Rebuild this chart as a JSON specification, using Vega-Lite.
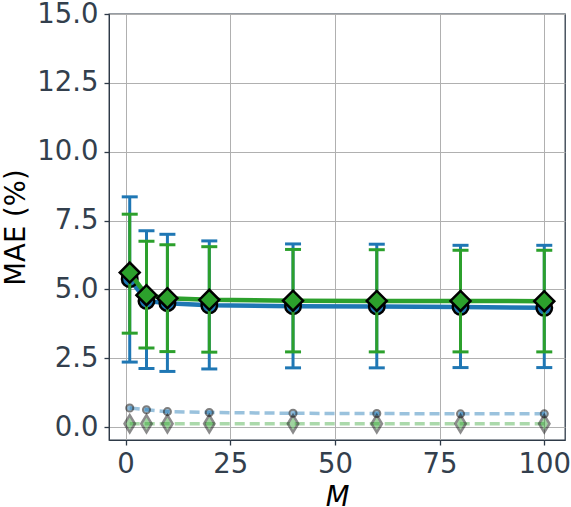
{
  "$schema": "https://vega.github.io/schema/vega-lite/v6.json",
  "width": 456,
  "height": 426,
  "autosize": {"type": "none"},
  "padding": {"left": 109, "top": 14, "right": 6, "bottom": 67},
  "background": "white",
  "config": {
    "font": "DejaVu Sans",
    "view": {"stroke": "#2e3a48", "strokeWidth": 1.3},
    "axis": {
      "domainColor": "#2e3a48",
      "tickColor": "#2e3a48",
      "tickSize": 5,
      "tickWidth": 1.3,
      "labelColor": "#333f4d",
      "labelFontSize": 27.5,
      "labelFont": "DejaVu Sans",
      "titleFont": "DejaVu Sans",
      "titleFontSize": 27.5,
      "titleColor": "black",
      "titleFontWeight": "normal",
      "gridColor": "#b0b0b0",
      "gridWidth": 1,
      "gridOpacity": 1
    }
  },
  "datasets": {
    "main": [
      {"M": 1, "series": "A", "mae": 5.37, "lo": 2.36, "hi": 8.36},
      {"M": 5, "series": "A", "mae": 4.58, "lo": 2.13, "hi": 7.13},
      {"M": 10, "series": "A", "mae": 4.5, "lo": 2.02, "hi": 7.0},
      {"M": 20, "series": "A", "mae": 4.42, "lo": 2.11, "hi": 6.76},
      {"M": 40, "series": "A", "mae": 4.39, "lo": 2.15, "hi": 6.65},
      {"M": 60, "series": "A", "mae": 4.38, "lo": 2.15, "hi": 6.64},
      {"M": 80, "series": "A", "mae": 4.36, "lo": 2.16, "hi": 6.6},
      {"M": 100, "series": "A", "mae": 4.33, "lo": 2.16, "hi": 6.6},
      {"M": 1, "series": "B", "mae": 5.61, "lo": 3.41, "hi": 7.73},
      {"M": 5, "series": "B", "mae": 4.79, "lo": 2.87, "hi": 6.75},
      {"M": 10, "series": "B", "mae": 4.68, "lo": 2.74, "hi": 6.62},
      {"M": 20, "series": "B", "mae": 4.62, "lo": 2.72, "hi": 6.55},
      {"M": 40, "series": "B", "mae": 4.59, "lo": 2.73, "hi": 6.45},
      {"M": 60, "series": "B", "mae": 4.58, "lo": 2.73, "hi": 6.44},
      {"M": 80, "series": "B", "mae": 4.58, "lo": 2.73, "hi": 6.42},
      {"M": 100, "series": "B", "mae": 4.57, "lo": 2.73, "hi": 6.42}
    ],
    "low": [
      {"M": 1, "series": "A", "mae": 0.69},
      {"M": 5, "series": "A", "mae": 0.63},
      {"M": 10, "series": "A", "mae": 0.56},
      {"M": 20, "series": "A", "mae": 0.53},
      {"M": 40, "series": "A", "mae": 0.5},
      {"M": 60, "series": "A", "mae": 0.49},
      {"M": 80, "series": "A", "mae": 0.48},
      {"M": 100, "series": "A", "mae": 0.48},
      {"M": 1, "series": "B", "mae": 0.12},
      {"M": 5, "series": "B", "mae": 0.12},
      {"M": 10, "series": "B", "mae": 0.12},
      {"M": 20, "series": "B", "mae": 0.12},
      {"M": 40, "series": "B", "mae": 0.12},
      {"M": 60, "series": "B", "mae": 0.12},
      {"M": 80, "series": "B", "mae": 0.12},
      {"M": 100, "series": "B", "mae": 0.12}
    ]
  },
  "encoding": {
    "x": {
      "field": "M", "type": "quantitative",
      "scale": {"domain": [-3.95, 104.95], "nice": false, "zero": false},
      "axis": {"values": [0, 25, 50, 75, 100], "title": "M", "titleFontStyle": "italic", "labelPadding": 5, "titlePadding": 6}
    },
    "y": {
      "field": "mae", "type": "quantitative",
      "scale": {"domain": [-0.47, 15], "nice": false, "zero": false},
      "axis": {"values": [0, 2.5, 5, 7.5, 10, 12.5, 15], "format": ".1f", "title": "MAE (%)", "labelPadding": 6, "titlePadding": 6}
    }
  },
  "layer": [
    {
      "data": {"name": "low"},
      "transform": [{"filter": "datum.series == 'A'"}],
      "mark": {"type": "line", "color": "#1f77b4", "opacity": 0.45, "strokeWidth": 3.5, "strokeDash": [10, 5]}
    },
    {
      "data": {"name": "low"},
      "transform": [{"filter": "datum.series == 'B'"}],
      "mark": {"type": "line", "color": "#2ca02c", "opacity": 0.4, "strokeWidth": 3.5, "strokeDash": [10, 5]}
    },
    {
      "data": {"name": "low"},
      "transform": [{"filter": "datum.series == 'A'"}],
      "mark": {"type": "point", "shape": "circle", "filled": true, "fill": "#1f77b4", "stroke": "black", "strokeWidth": 2, "opacity": 0.5, "size": 50}
    },
    {
      "data": {"name": "low"},
      "transform": [{"filter": "datum.series == 'B'"}],
      "mark": {"type": "point", "shape": "M-0.6,0L0,-1L0.6,0L0,1Z", "filled": true, "fill": "#2ca02c", "stroke": "black", "strokeWidth": 2.5, "opacity": 0.45, "size": 300}
    },
    {
      "data": {"name": "main"},
      "transform": [{"filter": "datum.series == 'A'"}],
      "mark": {"type": "line", "color": "#1f77b4", "strokeWidth": 4.5}
    },
    {
      "data": {"name": "main"},
      "transform": [{"filter": "datum.series == 'A'"}],
      "mark": {"type": "rule", "color": "#1f77b4", "strokeWidth": 3},
      "encoding": {"y": {"field": "lo", "type": "quantitative"}, "y2": {"field": "hi"}}
    },
    {
      "data": {"name": "main"},
      "transform": [{"filter": "datum.series == 'A'"}],
      "mark": {"type": "tick", "orient": "horizontal", "color": "#1f77b4", "size": 16, "thickness": 3, "opacity": 1},
      "encoding": {"y": {"field": "lo", "type": "quantitative"}}
    },
    {
      "data": {"name": "main"},
      "transform": [{"filter": "datum.series == 'A'"}],
      "mark": {"type": "tick", "orient": "horizontal", "color": "#1f77b4", "size": 16, "thickness": 3, "opacity": 1},
      "encoding": {"y": {"field": "hi", "type": "quantitative"}}
    },
    {
      "data": {"name": "main"},
      "transform": [{"filter": "datum.series == 'A'"}],
      "mark": {"type": "point", "shape": "circle", "filled": true, "fill": "#1f77b4", "stroke": "black", "strokeWidth": 2.5, "opacity": 1, "size": 240}
    },
    {
      "data": {"name": "main"},
      "transform": [{"filter": "datum.series == 'B'"}],
      "mark": {"type": "line", "color": "#2ca02c", "strokeWidth": 4.5}
    },
    {
      "data": {"name": "main"},
      "transform": [{"filter": "datum.series == 'B'"}],
      "mark": {"type": "rule", "color": "#2ca02c", "strokeWidth": 3},
      "encoding": {"y": {"field": "lo", "type": "quantitative"}, "y2": {"field": "hi"}}
    },
    {
      "data": {"name": "main"},
      "transform": [{"filter": "datum.series == 'B'"}],
      "mark": {"type": "tick", "orient": "horizontal", "color": "#2ca02c", "size": 16, "thickness": 3, "opacity": 1},
      "encoding": {"y": {"field": "lo", "type": "quantitative"}}
    },
    {
      "data": {"name": "main"},
      "transform": [{"filter": "datum.series == 'B'"}],
      "mark": {"type": "tick", "orient": "horizontal", "color": "#2ca02c", "size": 16, "thickness": 3, "opacity": 1},
      "encoding": {"y": {"field": "hi", "type": "quantitative"}}
    },
    {
      "data": {"name": "main"},
      "transform": [{"filter": "datum.series == 'B'"}],
      "mark": {"type": "point", "shape": "diamond", "filled": true, "fill": "#2ca02c", "stroke": "black", "strokeWidth": 2.5, "opacity": 1, "size": 400}
    }
  ]
}
